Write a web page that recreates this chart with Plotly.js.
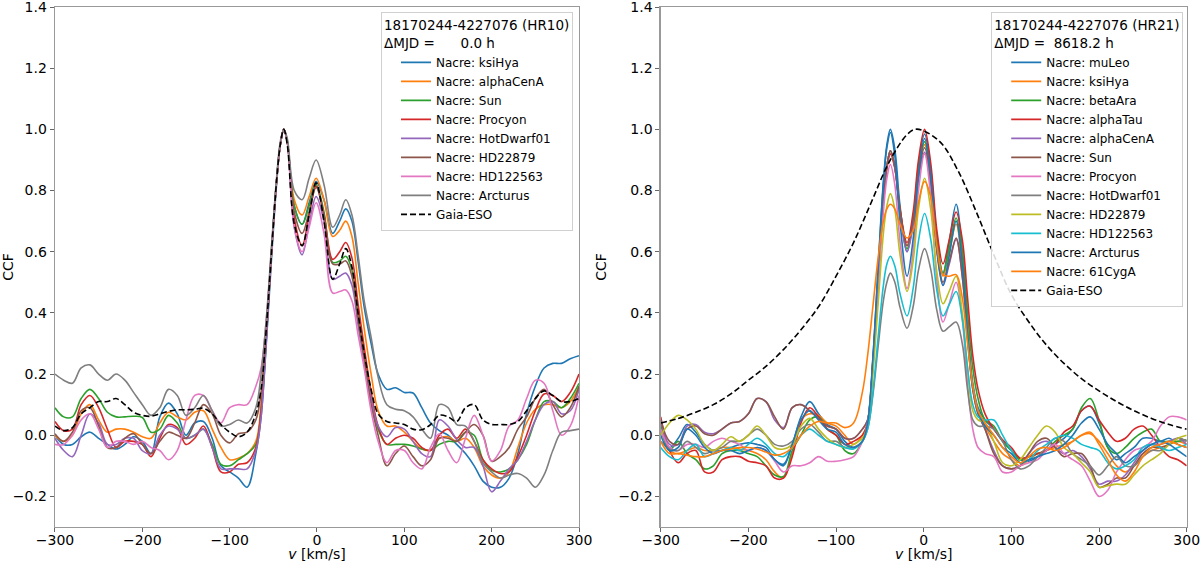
<!DOCTYPE html>
<html>
<head>
<meta charset="utf-8">
<script src="https://cdn.plot.ly/plotly-3.0.1.min.js"></script>
<style>html,body{margin:0;padding:0;background:#fff}#chart{width:1200px;height:562px}</style>
</head>
<body>
<div id="chart"></div>
<script>
// ---------- velocity grids [km/s] ----------
const vWingLeft = [-300,-290,-280,-270,-260,-250,-240,-230,-220,-210,-200,-190,-180,-170,-160,-150,-140,-130,-120,-110,-100,-90,-80,-70];
const vCoreHR10 = [-64,-58,-52,-46,-42,-38,-34,-26,-17,-9,-1,8,18,26,33,40,47,54,62,70];
const vCoreHR21 = [-64,-58,-52,-46,-42,-38,-33,-27,-19,-12,-6,1,8,15,22,29,37,44,50,56,62,70];
const vWingRight = [80,90,100,110,120,130,140,150,160,170,180,190,200,210,220,230,240,250,260,270,280,290,300];
const vHR10 = vWingLeft.concat(vCoreHR10, vWingRight);
const vHR21 = vWingLeft.concat(vCoreHR21, vWingRight);
const vGaiaHR21 = [-300,-280,-260,-240,-220,-200,-180,-160,-140,-120,-100,-80,-60,-40,-20,-10,0,20,40,60,80,100,120,140,160,180,200,220,240,260,280,300];

// ---------- HR10 panel ----------
const hr10Names = ["Nacre: ksiHya","Nacre: alphaCenA","Nacre: Sun","Nacre: Procyon","Nacre: HotDwarf01","Nacre: HD22879","Nacre: HD122563","Nacre: Arcturus"];
const hr10_ksiHya = [0.0,-0.03,-0.03,-0.005,0.01,-0.01,-0.03,-0.045,-0.03,-0.005,-0.02,-0.06,0.06,0.105,0.07,0.0,0.04,0.045,-0.01,-0.1,-0.12,-0.14,-0.17,-0.06,
  0.06,0.30,0.58,0.83,0.95,1.0,0.96,0.75,0.69,0.76,0.83,0.77,0.66,0.70,0.74,0.70,0.57,0.42,0.30,0.20,
  0.15,0.155,0.14,0.138,0.09,0.04,0.015,0.0,-0.03,-0.06,-0.10,-0.15,-0.17,-0.17,-0.14,-0.06,0.07,0.16,0.22,0.235,0.235,0.25,0.26];
const hr10_alphaCenA = [0.0,-0.02,0.0,0.07,0.10,0.05,0.01,0.02,0.02,0.01,-0.005,-0.01,0.04,0.075,0.06,0.05,0.075,0.08,0.02,-0.04,-0.08,-0.075,-0.06,-0.02,
  0.10,0.33,0.60,0.84,0.95,1.0,0.96,0.77,0.72,0.78,0.84,0.77,0.65,0.67,0.70,0.65,0.50,0.35,0.20,0.08,
  0.03,0.03,0.01,-0.02,-0.045,-0.048,-0.01,-0.005,-0.02,-0.01,-0.04,-0.10,-0.13,-0.14,-0.12,-0.04,0.04,0.085,0.10,0.10,0.09,0.11,0.16];
const hr10_Sun = [0.09,0.06,0.06,0.12,0.15,0.12,0.075,0.06,0.06,0.062,0.058,0.01,0.02,0.065,0.04,-0.01,0.0,0.02,-0.03,-0.095,-0.10,-0.08,-0.06,-0.03,
  0.08,0.32,0.60,0.84,0.95,1.0,0.96,0.75,0.69,0.75,0.82,0.73,0.565,0.57,0.585,0.54,0.40,0.27,0.13,0.02,
  -0.03,-0.03,-0.03,-0.035,-0.045,-0.05,-0.03,-0.02,-0.02,0.01,0.0,-0.08,-0.115,-0.12,-0.11,-0.08,-0.03,0.05,0.11,0.11,0.09,0.12,0.17];
const hr10_Procyon = [0.045,0.015,0.02,0.10,0.13,0.09,0.02,-0.04,-0.02,-0.02,-0.03,-0.07,-0.01,0.035,0.025,-0.03,-0.01,0.03,-0.04,-0.12,-0.12,-0.095,-0.09,-0.04,
  0.08,0.32,0.60,0.84,0.95,1.0,0.96,0.71,0.62,0.72,0.815,0.72,0.575,0.60,0.63,0.58,0.43,0.29,0.14,0.03,
  -0.03,-0.01,0.0,-0.01,-0.04,-0.05,0.0,0.02,-0.01,0.02,-0.02,-0.08,-0.11,-0.125,-0.12,-0.07,0.0,0.08,0.135,0.13,0.11,0.14,0.20];
const hr10_HotDwarf01 = [-0.01,-0.05,-0.07,0.0,0.07,0.04,-0.03,-0.03,-0.01,-0.01,-0.05,-0.06,0.0,0.03,0.02,-0.01,0.0,0.02,-0.04,-0.11,-0.11,-0.11,-0.11,-0.05,
  0.06,0.31,0.60,0.84,0.95,1.0,0.96,0.68,0.59,0.69,0.78,0.70,0.51,0.52,0.53,0.49,0.36,0.24,0.12,0.03,
  -0.005,0.025,0.02,-0.02,-0.06,-0.07,0.05,0.03,-0.015,-0.04,-0.04,-0.10,-0.185,-0.15,-0.11,-0.08,-0.02,0.05,0.10,0.11,0.07,0.08,0.15];
const hr10_HD22879 = [0.005,-0.02,0.01,0.08,0.09,0.03,-0.04,-0.04,-0.01,0.005,-0.03,-0.06,-0.02,0.01,0.0,-0.01,0.04,0.10,0.07,0.0,-0.025,0.005,0.01,0.05,
  0.14,0.36,0.61,0.84,0.95,1.0,0.96,0.73,0.66,0.73,0.81,0.72,0.56,0.56,0.57,0.52,0.38,0.25,0.10,0.0,
  -0.1,-0.06,-0.035,-0.07,-0.1,-0.08,-0.01,-0.01,-0.02,0.01,0.035,0.0,-0.085,-0.07,-0.04,0.02,0.06,0.12,0.15,0.10,0.06,0.09,0.16];
const hr10_HD122563 = [-0.03,-0.03,0.0,0.05,0.07,0.02,-0.04,-0.02,-0.02,-0.03,-0.02,-0.04,-0.05,-0.08,-0.05,0.05,0.13,0.13,0.08,0.04,0.09,0.10,0.10,0.16,
  0.22,0.38,0.60,0.84,0.95,1.0,0.96,0.68,0.60,0.68,0.76,0.66,0.465,0.47,0.475,0.44,0.33,0.22,0.08,-0.02,
  -0.09,-0.05,-0.05,-0.09,-0.11,-0.04,0.005,-0.05,-0.09,-0.01,0.065,0.0,-0.085,-0.05,0.03,0.05,0.12,0.18,0.17,0.08,0.0,0.03,0.13];
const hr10_Arcturus = [0.20,0.18,0.17,0.22,0.23,0.20,0.18,0.20,0.18,0.14,0.10,0.065,0.09,0.15,0.13,0.065,0.09,0.13,0.08,0.03,0.035,0.05,0.04,0.09,
  0.20,0.38,0.62,0.85,0.96,1.0,0.97,0.80,0.77,0.84,0.90,0.82,0.68,0.72,0.77,0.72,0.59,0.44,0.32,0.19,
  0.10,0.085,0.08,0.06,0.02,-0.01,0.10,0.09,0.035,0.03,-0.02,-0.09,-0.12,-0.14,-0.13,-0.125,-0.14,-0.17,-0.13,-0.05,0.01,0.015,0.02];
const hr10_GaiaESO = [0.03,0.015,0.025,0.07,0.09,0.11,0.11,0.12,0.10,0.075,0.065,0.062,0.07,0.078,0.083,0.083,0.085,0.088,0.07,0.035,0.01,-0.005,0.01,0.07,
  0.15,0.35,0.60,0.84,0.95,1.0,0.95,0.69,0.62,0.72,0.825,0.70,0.51,0.56,0.61,0.55,0.40,0.27,0.15,0.07,
  0.045,0.04,0.035,0.02,0.018,0.035,0.065,0.06,0.045,0.09,0.10,0.05,0.035,0.035,0.035,0.045,0.08,0.12,0.145,0.13,0.11,0.11,0.12];
const hr10Series = [hr10_ksiHya,hr10_alphaCenA,hr10_Sun,hr10_Procyon,hr10_HotDwarf01,hr10_HD22879,hr10_HD122563,hr10_Arcturus];

// ---------- HR21 panel ----------
const hr21Names = ["Nacre: muLeo","Nacre: ksiHya","Nacre: betaAra","Nacre: alphaTau","Nacre: alphaCenA","Nacre: Sun","Nacre: Procyon","Nacre: HotDwarf01","Nacre: HD22879","Nacre: HD122563","Nacre: Arcturus","Nacre: 61CygA"];
const hr21_muLeo = [0.02,-0.04,-0.01,0.035,0.01,-0.03,-0.05,-0.05,-0.04,-0.03,-0.025,-0.03,-0.04,-0.08,-0.095,-0.03,0.06,0.11,0.07,0.035,0.02,-0.02,-0.04,-0.02,
  0.04,0.25,0.55,0.83,0.95,1.0,0.936,0.75,0.60,0.705,0.88,0.985,0.871,0.644,0.53,0.631,0.755,0.60,0.35,0.17,0.09,0.05,
  0.02,-0.02,-0.05,-0.08,-0.085,-0.07,-0.05,-0.03,-0.01,0.02,0.08,0.095,0.04,-0.04,-0.08,-0.06,-0.04,-0.01,-0.01,-0.02,-0.01,-0.03,-0.04];
const hr21_ksiHya = [0.03,-0.05,-0.06,-0.05,-0.04,-0.05,-0.05,-0.04,-0.04,-0.045,-0.05,-0.06,-0.08,-0.12,-0.14,-0.06,0.05,0.07,0.065,0.04,0.03,0.0,-0.03,0.0,
  0.04,0.23,0.51,0.77,0.88,0.93,0.88,0.737,0.62,0.71,0.86,0.95,0.843,0.628,0.52,0.597,0.69,0.55,0.33,0.16,0.08,0.03,
  -0.02,-0.06,-0.08,-0.1,-0.08,-0.06,-0.05,-0.04,-0.03,-0.02,0.0,0.005,-0.02,-0.06,-0.1,-0.12,-0.1,-0.07,-0.05,-0.04,-0.03,-0.02,-0.03];
const hr21_betaAra = [0.04,-0.05,-0.02,-0.06,-0.08,-0.11,-0.10,-0.06,-0.05,-0.05,-0.06,-0.07,-0.1,-0.13,-0.135,-0.05,0.0,0.05,0.06,0.02,0.0,-0.05,-0.06,-0.02,
  0.04,0.23,0.51,0.77,0.88,0.93,0.879,0.73,0.61,0.706,0.864,0.96,0.853,0.638,0.53,0.611,0.71,0.60,0.40,0.22,0.12,0.05,
  0.03,-0.02,-0.05,-0.08,-0.07,-0.06,-0.05,-0.02,0.0,0.02,0.09,0.12,0.05,-0.04,-0.06,-0.04,-0.01,0.01,0.02,-0.02,-0.02,-0.02,-0.015];
const hr21_alphaTau = [0.06,-0.05,-0.09,-0.06,-0.05,-0.12,-0.12,-0.08,-0.07,-0.07,-0.085,-0.09,-0.1,-0.14,-0.14,-0.07,0.04,0.09,0.06,0.02,0.0,-0.03,-0.02,0.0,
  0.04,0.23,0.50,0.76,0.87,0.92,0.874,0.739,0.63,0.731,0.899,1.0,0.89,0.67,0.56,0.637,0.73,0.64,0.45,0.26,0.15,0.07,
  0.02,-0.015,-0.04,-0.075,-0.07,-0.06,-0.05,-0.03,0.01,0.03,0.08,0.095,0.05,0.01,-0.02,-0.01,0.02,0.03,0.0,-0.04,-0.07,-0.08,-0.1];
const hr21_alphaCenA = [0.05,-0.03,-0.03,0.03,0.035,0.01,0.005,0.02,0.04,0.045,0.07,0.12,0.11,0.05,0.025,0.09,0.10,0.08,0.055,0.03,0.02,-0.01,-0.01,0.02,
  0.05,0.24,0.51,0.77,0.88,0.93,0.877,0.724,0.60,0.689,0.836,0.925,0.816,0.599,0.49,0.558,0.64,0.52,0.32,0.15,0.07,0.02,
  -0.05,-0.1,-0.11,-0.1,-0.06,-0.03,-0.02,-0.04,-0.06,-0.05,-0.07,-0.11,-0.16,-0.15,-0.15,-0.13,-0.09,-0.05,-0.03,-0.03,-0.02,-0.01,-0.03];
const hr21_Sun = [0.05,-0.02,-0.03,0.02,0.03,0.005,0.0,0.02,0.04,0.045,0.07,0.12,0.11,0.06,0.02,0.09,0.10,0.08,0.055,0.03,0.02,-0.01,-0.01,0.02,
  0.05,0.24,0.51,0.77,0.88,0.93,0.88,0.737,0.62,0.707,0.853,0.94,0.83,0.61,0.50,0.565,0.645,0.52,0.32,0.15,0.07,0.02,
  -0.06,-0.1,-0.11,-0.1,-0.06,-0.02,-0.01,-0.04,-0.07,-0.06,-0.06,-0.1,-0.17,-0.16,-0.14,-0.14,-0.1,-0.06,-0.04,-0.04,-0.03,-0.01,-0.02];
const hr21_Procyon = [0.02,-0.04,-0.05,-0.03,-0.03,-0.04,-0.02,-0.01,-0.02,-0.03,-0.05,-0.04,-0.05,-0.085,-0.12,-0.1,-0.1,-0.09,-0.07,-0.085,-0.085,-0.08,-0.07,-0.02,
  0.04,0.22,0.49,0.73,0.84,0.885,0.82,0.632,0.48,0.60,0.80,0.92,0.783,0.508,0.37,0.429,0.50,0.38,0.17,0.02,-0.04,-0.06,
  -0.07,-0.12,-0.12,-0.1,-0.09,-0.08,-0.05,-0.03,-0.06,-0.08,-0.1,-0.15,-0.2,-0.18,-0.12,-0.08,-0.05,-0.04,-0.02,0.03,0.06,0.06,0.05];
const hr21_HotDwarf01 = [-0.02,-0.045,-0.05,-0.02,-0.04,-0.06,-0.05,-0.04,-0.02,-0.02,0.0,0.02,0.0,-0.03,-0.035,-0.02,0.02,0.035,0.01,-0.02,-0.02,-0.04,-0.04,-0.02,
  0.02,0.13,0.29,0.44,0.50,0.53,0.501,0.418,0.35,0.421,0.539,0.61,0.543,0.408,0.34,0.354,0.37,0.30,0.15,0.05,0.03,0.03,
  0.02,-0.02,-0.08,-0.11,-0.1,-0.07,-0.04,-0.01,-0.02,-0.06,-0.08,-0.1,-0.13,-0.1,-0.07,-0.1,-0.1,-0.07,-0.05,-0.05,-0.03,-0.01,-0.02];
const hr21_HD22879 = [0.0,0.04,0.065,0.05,0.02,-0.03,-0.05,-0.03,-0.005,-0.02,0.0,0.03,0.0,-0.04,-0.045,-0.03,0.03,0.055,0.02,-0.01,-0.03,-0.04,-0.03,-0.01,
  0.03,0.20,0.43,0.66,0.75,0.79,0.739,0.59,0.47,0.571,0.739,0.84,0.738,0.533,0.43,0.47,0.52,0.40,0.22,0.08,0.05,0.04,
  -0.02,-0.09,-0.1,-0.08,-0.04,0.0,0.03,0.01,-0.04,-0.06,-0.09,-0.12,-0.17,-0.165,-0.16,-0.16,-0.13,-0.1,-0.08,-0.06,-0.03,-0.01,0.0];
const hr21_HD122563 = [-0.04,-0.07,-0.08,-0.05,-0.03,-0.07,-0.06,-0.05,-0.04,-0.05,-0.03,-0.01,-0.03,-0.06,-0.07,-0.04,0.0,0.02,0.0,-0.02,-0.03,-0.04,-0.045,-0.02,
  0.02,0.14,0.32,0.49,0.56,0.585,0.554,0.463,0.39,0.481,0.634,0.725,0.641,0.474,0.39,0.426,0.47,0.38,0.22,0.10,0.06,0.05,
  0.05,0.0,-0.05,-0.09,-0.08,-0.05,-0.03,-0.01,0.0,-0.01,-0.03,-0.04,-0.05,-0.09,-0.11,-0.1,-0.08,-0.04,-0.03,-0.04,-0.05,-0.04,-0.03];
const hr21_Arcturus = [0.0,-0.05,-0.04,0.02,0.0,-0.04,-0.06,-0.05,-0.05,-0.06,-0.05,-0.04,-0.05,-0.08,-0.1,-0.03,0.05,0.08,0.05,0.02,0.01,-0.03,-0.04,-0.02,
  0.04,0.25,0.54,0.82,0.94,0.99,0.915,0.697,0.52,0.643,0.847,0.97,0.85,0.61,0.49,0.585,0.70,0.56,0.33,0.16,0.08,0.03,
  0.0,-0.04,-0.06,-0.09,-0.08,-0.07,-0.06,-0.05,-0.03,0.0,0.04,0.06,0.02,-0.03,-0.06,-0.09,-0.07,-0.05,-0.03,-0.02,-0.03,-0.05,-0.07];
const hr21_61CygA = [-0.02,-0.06,-0.06,-0.065,-0.07,-0.07,-0.06,-0.05,-0.045,-0.04,-0.04,-0.045,-0.055,-0.065,-0.06,-0.04,0.0,0.03,0.045,0.04,0.04,0.025,0.04,0.14,
  0.26,0.42,0.58,0.70,0.74,0.755,0.74,0.69,0.645,0.67,0.76,0.83,0.78,0.62,0.525,0.52,0.525,0.45,0.30,0.16,0.08,0.04,
  0.0,-0.04,-0.07,-0.09,-0.07,-0.045,-0.04,-0.05,-0.04,-0.02,0.0,0.01,-0.03,-0.08,-0.13,-0.15,-0.12,-0.07,-0.04,-0.03,-0.02,-0.03,-0.04];
const hr21_GaiaESO = [0.04,0.055,0.075,0.10,0.135,0.18,0.225,0.28,0.345,0.42,0.52,0.63,0.76,0.89,0.98,1.0,0.995,0.955,0.86,0.73,0.59,0.46,0.37,0.295,0.235,0.185,0.145,0.11,0.08,0.055,0.035,0.02];
const hr21Series = [hr21_muLeo,hr21_ksiHya,hr21_betaAra,hr21_alphaTau,hr21_alphaCenA,hr21_Sun,hr21_Procyon,hr21_HotDwarf01,hr21_HD22879,hr21_HD122563,hr21_Arcturus,hr21_61CygA];

const yTicks = [-0.2,0.0,0.2,0.4,0.6,0.8,1.0,1.2,1.4];
const xTicks = [-300,-200,-100,0,100,200,300];

// ---------- build ----------
const tab10 = ["#1f77b4","#ff7f0e","#2ca02c","#d62728","#9467bd","#8c564b","#e377c2","#7f7f7f","#bcbd22","#17becf"];
const FONT = "DejaVu Sans, Liberation Sans, sans-serif";
const traces = [];
hr10Series.forEach((ys, i) => traces.push({
  x: vHR10, y: ys, type: "scatter", mode: "lines", name: hr10Names[i],
  line: {color: tab10[i % 10], width: 1.6, shape: "spline", smoothing: 1},
  xaxis: "x", yaxis: "y", legend: "legend"
}));
traces.push({x: vHR10, y: hr10_GaiaESO, type: "scatter", mode: "lines", name: "Gaia-ESO",
  line: {color: "#000", width: 1.6, dash: "6px,3px", shape: "spline", smoothing: 1},
  xaxis: "x", yaxis: "y", legend: "legend"});
hr21Series.forEach((ys, i) => traces.push({
  x: vHR21, y: ys, type: "scatter", mode: "lines", name: hr21Names[i],
  line: {color: tab10[i % 10], width: 1.6, shape: "spline", smoothing: 1},
  xaxis: "x2", yaxis: "y2", legend: "legend2"
}));
traces.push({x: vGaiaHR21, y: hr21_GaiaESO, type: "scatter", mode: "lines", name: "Gaia-ESO",
  line: {color: "#000", width: 1.6, dash: "6px,3px", shape: "spline", smoothing: 1},
  xaxis: "x2", yaxis: "y2", legend: "legend2"});

function xAxis(domain, anchor) {
  return {domain: domain, anchor: anchor, range: [-300, 300], tickvals: xTicks,
    showline: true, mirror: true, linecolor: "#999", linewidth: 1.3,
    ticks: "outside", ticklen: 4, tickcolor: "#666", showgrid: false, zeroline: false,
    ticklabeloverflow: "allow", ticklabelstandoff: -4,
    tickfont: {family: FONT, size: 14, color: "#000"},
    title: {text: "<i>v</i> [km/s]", font: {family: FONT, size: 14, color: "#000"}, standoff: 0}};
}
function yAxis(anchor) {
  return {domain: [0.0623, 0.9875], anchor: anchor, range: [-0.3, 1.4], tickvals: yTicks, tickformat: ".1f",
    showline: true, mirror: true, linecolor: "#999", linewidth: 1.3,
    ticks: "outside", ticklen: 4, tickcolor: "#666", showgrid: false, zeroline: false,
    ticklabeloverflow: "allow",
    tickfont: {family: FONT, size: 14, color: "#000"},
    title: {text: "CCF", font: {family: FONT, size: 14, color: "#000"}, standoff: 8}};
}
function legendBox(xr, titleText) {
  return {x: xr, xanchor: "right", y: 0.979, yanchor: "top",
    bgcolor: "rgba(255,255,255,0.85)", bordercolor: "#d0d0d0", borderwidth: 1,
    font: {family: FONT, size: 12, color: "#000"}, itemwidth: 30, tracegroupgap: 0, indentation: 14,
    title: {text: titleText, side: "top", font: {family: FONT, size: 13.5, color: "#000"}}};
}
const layout = {
  width: 1200, height: 562, margin: {l: 0, r: 0, t: 0, b: 0},
  paper_bgcolor: "#fff", plot_bgcolor: "#fff", showlegend: true,
  font: {family: FONT, color: "#000"},
  xaxis: xAxis([0.0458, 0.4825], "y"),
  yaxis: yAxis("x"),
  xaxis2: xAxis([0.5506, 0.9889], "y2"),
  yaxis2: yAxis("x2"),
  legend: legendBox(0.4775, "18170244-4227076 (HR10)<br>ΔMJD =\u00a0\u00a0\u00a0\u00a0\u00a0\u00a00.0 h"),
  legend2: legendBox(0.986, "18170244-4227076 (HR21)<br>ΔMJD =\u00a0\u00a08618.2 h")
};
Plotly.newPlot("chart", traces, layout, {staticPlot: true, displayModeBar: false});
</script>
</body>
</html>
